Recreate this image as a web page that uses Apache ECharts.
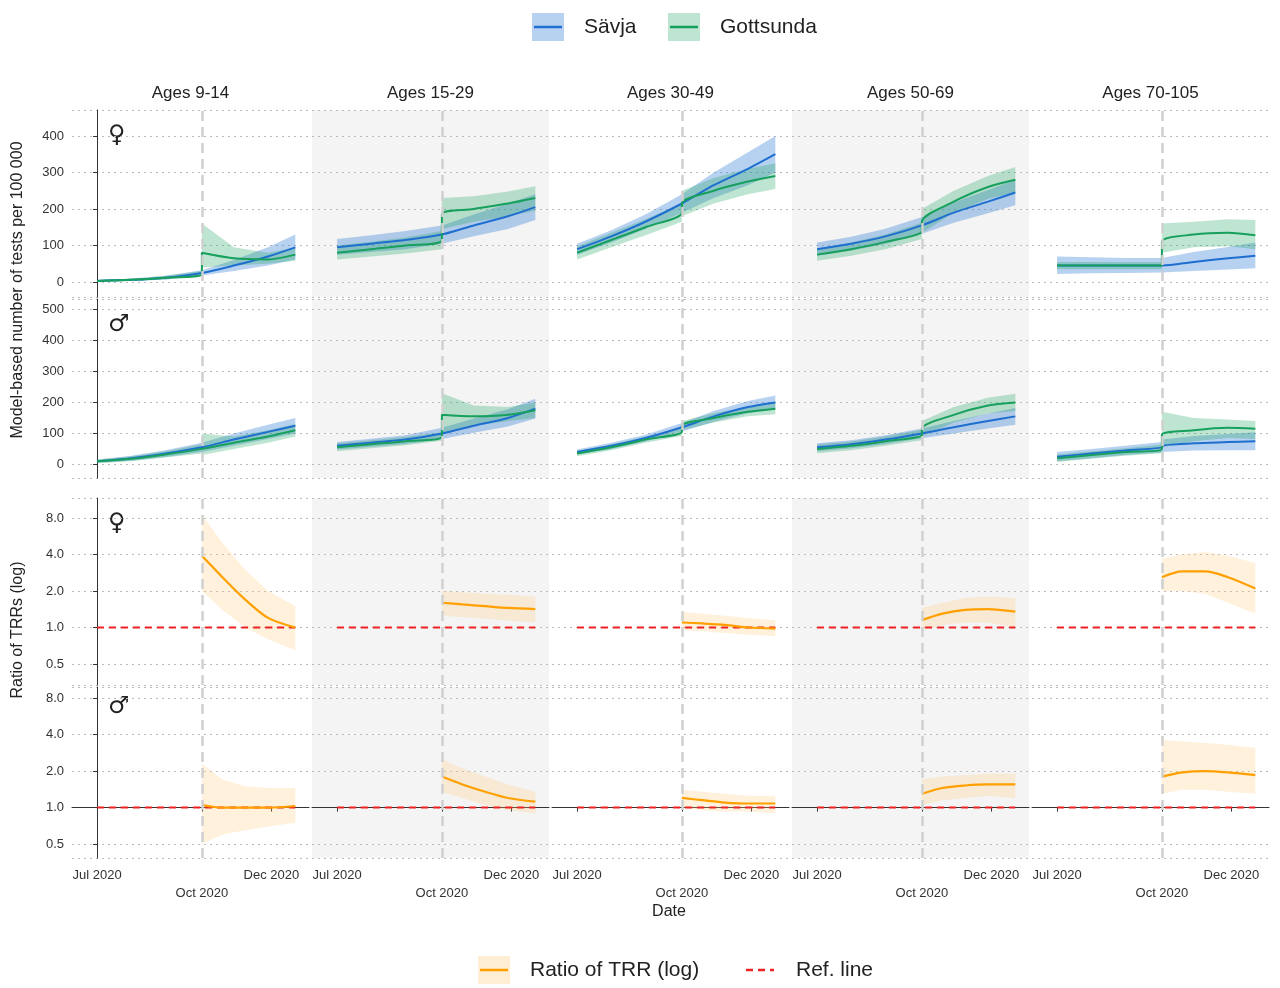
<!DOCTYPE html><html><head><meta charset="utf-8"><script src="https://cdn.jsdelivr.net/npm/echarts@6/dist/echarts.min.js"></script></head><body style="margin:0"><div id="c" style="width:1280px;height:988px"></div><script>
const ages=['Ages 9-14','Ages 15-29','Ages 30-49','Ages 50-69','Ages 70-105'];
const tickDays=[0,92,153];const tickLabels=['Jul 2020','\nOct 2020','Dec 2020'];
const cntX=[0,30,60,92,92,120,150,174];
const savF=[[3,6,12,25,25,45,70,95],[95,105,115,130,130,155,180,205],[90,125,165,215,215,265,310,350],[90,105,125,155,155,190,220,245],[45,45,45,45,45,55,65,72]];
const savFlo=[[0,3,7,18,18,30,45,62],[75,82,90,105,105,125,145,170],[75,108,145,190,190,230,265,300],[72,86,104,132,132,162,188,210],[22,24,25,26,26,30,34,38]];
const savFhi=[[6,9,17,32,32,60,95,130],[118,128,140,155,155,185,215,240],[105,142,185,240,240,300,355,400],[108,124,146,178,178,218,252,280],[70,68,66,66,66,82,96,108]];
const gotF=[[3,6,12,22,80,65,62,75],[80,90,100,115,185,200,215,230],[80,115,150,190,215,250,275,290],[75,90,110,140,165,220,260,280],[45,45,45,45,110,130,135,128]];
const gotFlo=[[0,3,7,15,40,45,50,58],[62,70,78,90,145,165,180,195],[62,95,128,165,180,215,240,255],[58,72,90,118,135,190,228,245],[35,35,35,35,80,95,98,90]];
const gotFhi=[[6,9,17,30,160,95,80,95],[100,110,122,140,230,235,248,262],[98,135,172,215,250,285,310,325],[92,108,130,162,200,250,290,315],[55,55,55,55,160,165,172,170]];
const savM=[[10,20,35,55,55,80,105,125],[60,70,80,100,100,125,150,180],[40,60,85,120,120,155,185,200],[55,65,80,100,100,120,140,155],[25,35,45,55,60,68,72,75]];
const savMlo=[[5,12,24,40,40,60,82,100],[48,57,66,82,82,102,122,148],[32,50,74,106,106,138,165,178],[42,52,66,84,84,100,116,128],[10,20,30,38,40,45,46,46]];
const savMhi=[[15,28,46,70,70,100,128,150],[72,83,94,118,118,148,178,212],[48,70,96,134,134,172,205,222],[68,78,94,116,116,140,164,182],[40,50,60,72,80,92,98,104]];
const gotM=[[10,18,32,50,50,70,90,110],[55,65,75,90,160,155,160,175],[35,55,80,105,125,150,170,180],[50,60,75,95,115,160,190,200],[20,30,40,50,95,110,118,115]];
const gotMlo=[[4,10,22,35,30,50,70,90],[42,52,62,76,100,125,140,150],[26,46,70,92,110,135,155,162],[36,46,60,78,90,135,165,172],[8,18,28,36,55,75,85,82]];
const gotMhi=[[16,26,42,65,100,90,110,130],[68,78,88,104,230,190,185,200],[44,64,90,118,140,165,185,198],[64,74,90,112,140,185,215,228],[32,42,52,64,170,150,145,140]];
const ratX=[92,110,130,150,174];
const ratF=[[3.9,2.6,1.7,1.2,1.0],[1.6,1.55,1.5,1.45,1.42],[1.1,1.08,1.05,1.0,0.98],[1.15,1.3,1.4,1.42,1.35],[2.6,2.9,2.9,2.6,2.1]];
const ratFlo=[[2.0,1.4,1.0,0.8,0.65],[1.25,1.22,1.18,1.14,1.1],[0.95,0.93,0.9,0.87,0.85],[0.95,1.05,1.1,1.1,1.0],[2.0,2.0,1.9,1.6,1.3]];
const ratFhi=[[8.5,5,3,2,1.5],[2.0,1.95,1.9,1.85,1.8],[1.35,1.3,1.25,1.2,1.15],[1.45,1.6,1.75,1.8,1.75],[3.7,4.0,4.2,3.9,3.4]];
const ratM=[[1.05,1.0,1.0,1.0,1.03],[1.8,1.55,1.35,1.2,1.12],[1.2,1.15,1.1,1.08,1.08],[1.3,1.45,1.52,1.55,1.55],[1.8,1.95,2.0,1.95,1.85]];
const ratMlo=[[0.5,0.6,0.65,0.7,0.75],[1.35,1.2,1.05,0.95,0.9],[1.0,0.95,0.93,0.93,0.9],[1.05,1.15,1.2,1.25,1.2],[1.3,1.4,1.4,1.35,1.3]];
const ratMhi=[[2.3,1.7,1.5,1.45,1.45],[2.5,2.1,1.8,1.55,1.35],[1.4,1.35,1.3,1.25,1.25],[1.7,1.8,1.85,1.9,1.9],[3.6,3.5,3.4,3.3,3.1]];
const refX=[0,174];

const C={sav:'#1f6fd0',savB:'rgba(31,111,208,0.32)',got:'#17a05d',gotB:'rgba(23,160,93,0.28)',or:'#ffa000',orB:'rgba(255,200,110,0.25)',red:'#ee2222'};
const colL=[72,312,552,792,1032],colW=237;
const rows=[{t:110,b:297,min:-41,max:471},{t:299,b:478,min:-44,max:534},{t:498,b:685,min:-1.575,max:3.548,log:1},{t:687,b:858,min:-1.38,max:3.3,log:1}];
const grid=[],xAxis=[],yAxis=[],series=[],graphic=[];
const L2=v=>Math.log2(v);
let gi=0;
function band(idx,xs,lo,hi,color){
  const data=xs.map((x,i)=>[x,lo[i],hi[i]]);
  series.push({type:'custom',xAxisIndex:idx,yAxisIndex:idx,data:data,silent:true,clip:true,encode:{x:0,y:[1,2]},
    renderItem:(params,api)=>{
      if(params.dataIndex!==0) return null;
      const up=data.map(d=>api.coord([d[0],d[2]]));
      const dn=data.map(d=>api.coord([d[0],d[1]])).reverse();
      return {type:'polygon',shape:{points:up.concat(dn)},style:{fill:color},
        clipPath:{type:'rect',shape:{x:params.coordSys.x,y:params.coordSys.y,width:params.coordSys.width,height:params.coordSys.height}}};
    }});
}
function line(idx,xs,ys,color,w,extra){
  series.push(Object.assign({type:'line',xAxisIndex:idx,yAxisIndex:idx,data:xs.map((x,i)=>[x,ys[i]]),symbol:'none',smooth:0.3,lineStyle:{color:color,width:w}},extra||{}));
}
rows.forEach((r,ri)=>{
  colL.forEach((l,ci)=>{
    const idx=gi++;
    if(ci%2==1) graphic.push({type:'rect',shape:{x:l,y:r.t,width:colW,height:r.b-r.t},style:{fill:'#f4f4f4'},z:-10});
    grid.push({left:l,top:r.t,width:colW,height:r.b-r.t});
    xAxis.push({type:'value',gridIndex:idx,min:-22,max:186,splitLine:{show:false},
      axisLine:{show:ri==3,lineStyle:{color:'#333'}},
      axisTick:{show:ri==3,customValues:tickDays,length:4,lineStyle:{color:'#333'}},
      axisLabel:{show:ri==3,customValues:tickDays,fontSize:13,color:'#333',lineHeight:18,formatter:v=>tickLabels[tickDays.indexOf(v)]}});
    yAxis.push({type:'value',gridIndex:idx,min:r.min,max:r.max,
      splitLine:{show:true,lineStyle:{color:'#bbb',type:[2,4]}},
      axisLine:{show:ci==0,lineStyle:{color:'#333'}},axisTick:{show:ci==0,length:4},
      axisLabel:{show:ci==0,showMinLabel:false,showMaxLabel:false,fontSize:13,color:'#333',formatter:r.log?(v=>Math.pow(2,v).toFixed(1)):(v=>v)}});
    if(!r.log){
      const S=ri==0?[savF,savFlo,savFhi,gotF,gotFlo,gotFhi]:[savM,savMlo,savMhi,gotM,gotMlo,gotMhi];
      band(idx,cntX,S[1][ci],S[2][ci],C.savB);
      band(idx,cntX,S[4][ci],S[5][ci],C.gotB);
      line(idx,cntX,S[0][ci],C.sav,2);
      line(idx,cntX,S[3][ci],C.got,2);
    } else {
      const S=ri==2?[ratF,ratFlo,ratFhi]:[ratM,ratMlo,ratMhi];
      band(idx,ratX,S[1][ci].map(L2),S[2][ci].map(L2),C.orB);
      line(idx,refX,[0,0],C.red,2,{lineStyle:{color:C.red,width:2,type:[7,5]}});
      line(idx,ratX,S[0][ci].map(L2),C.or,2.2);
    }
    series.push({type:'line',xAxisIndex:idx,yAxisIndex:idx,data:[],markLine:{silent:true,symbol:'none',label:{show:false},lineStyle:{color:'#d0d0d0',type:[10,6],width:2.5},data:[{xAxis:92}]}});
    if(ci==0) graphic.push({type:'text',x:108,y:r.t+(ri==3?8:14),style:{text:(ri%2==0)?'♀':'♂',fontSize:24,fill:'#222',fontFamily:'DejaVu Sans'}});
  });
});
ages.forEach((a,ci)=>graphic.push({type:'text',x:colL[ci]+colW/2,y:93,style:{text:a,fontSize:17,fill:'#222',align:'center',verticalAlign:'middle',fontFamily:'Liberation Sans'}}));
graphic.push({type:'text',x:18,y:290,rotation:Math.PI/2,style:{text:'Model-based number of tests per 100 000',fontSize:16,fill:'#222',align:'center',verticalAlign:'middle'}});
graphic.push({type:'text',x:18,y:630,rotation:Math.PI/2,style:{text:'Ratio of TRRs (log)',fontSize:16,fill:'#222',align:'center',verticalAlign:'middle'}});
graphic.push({type:'text',x:669,y:912,style:{text:'Date',fontSize:16,fill:'#222',align:'center',verticalAlign:'middle'}});
function legItem(x,y,fill,stroke,dash,label){
  if(fill) graphic.push({type:'rect',shape:{x:x,y:y-14,width:32,height:28},style:{fill:fill}});
  graphic.push({type:'line',shape:{x1:x+2,y1:y,x2:x+30,y2:y},style:{stroke:stroke,lineWidth:2.5,lineDash:dash}});
  graphic.push({type:'text',x:x+52,y:y,style:{text:label,fontSize:21,fill:'#222',verticalAlign:'middle'}});
}
legItem(532,27,C.savB,C.sav,null,'Sävja');
legItem(668,27,C.gotB,C.got,null,'Gottsunda');
legItem(478,970,'rgba(255,200,110,0.3)',C.or,null,'Ratio of TRR (log)');
legItem(744,970,null,C.red,[7,5],'Ref. line');
const ch=echarts.init(document.getElementById('c'),null,{renderer:'canvas'});
ch.setOption({animation:false,textStyle:{fontFamily:'Liberation Sans'},grid,xAxis,yAxis,series,graphic});
</script></body></html>
